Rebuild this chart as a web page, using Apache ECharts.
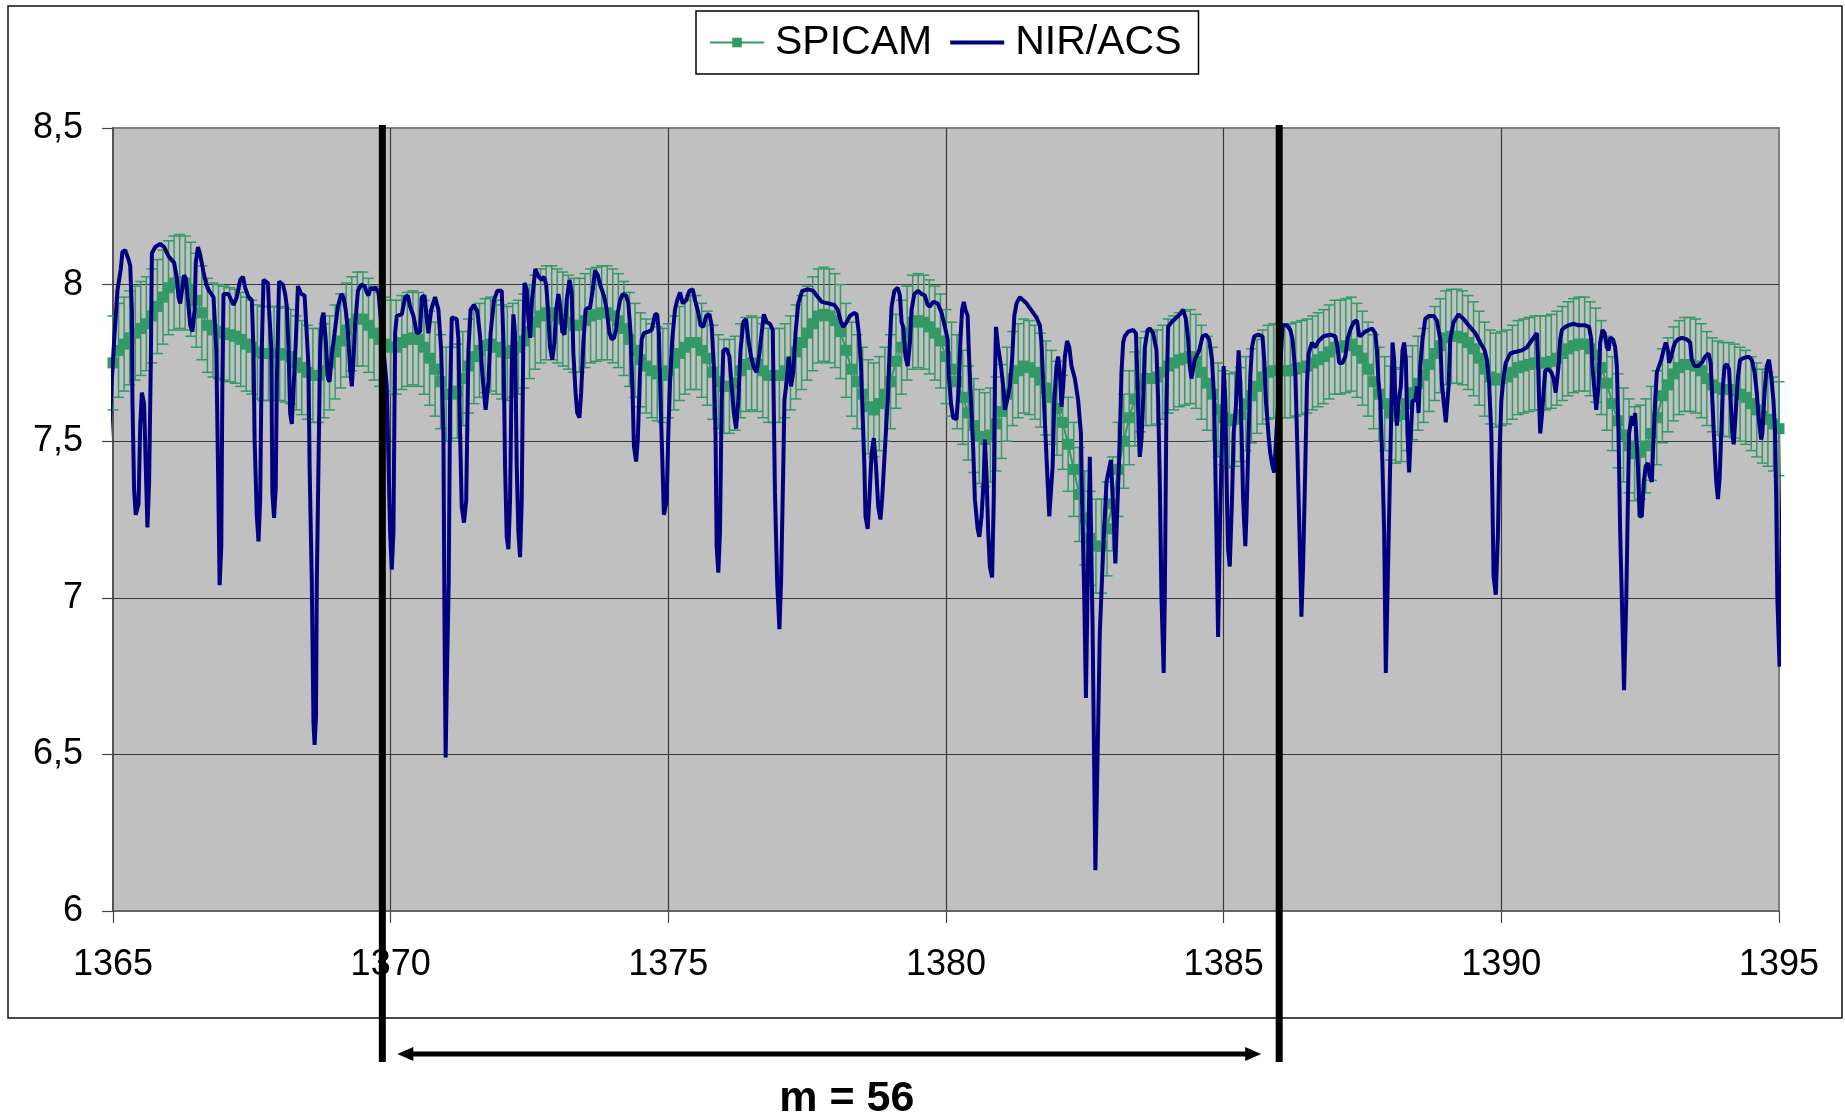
<!DOCTYPE html>
<html>
<head>
<meta charset="utf-8">
<title>SPICAM / NIR-ACS</title>
<script src="https://cdn.jsdelivr.net/npm/echarts@6.0.0/dist/echarts.min.js"></script>
<style>
    html, body { margin: 0; padding: 0; background: #fff; }
    #chart { width: 1845px; height: 1120px; }
</style>
</head>
<body>
<div id="chart"></div>
<script>
    // axis ranges / ticks
    var xRange = [1365, 1395];
    var yRange = [6, 8.5];

    // SPICAM: [x, value], error bar is +/- spicamErr
    var spicamErr = 0.15;
    var spicam = [
        [1365.0,7.75],[1365.1,7.79],[1365.2,7.81],[1365.3,7.83],[1365.4,7.845],[1365.5,7.86],[1365.6,7.875],[1365.7,7.90],[1365.8,7.93],[1365.9,7.96],
        [1366.0,7.99],[1366.1,8.005],[1366.2,8.01],[1366.3,8.005],[1366.4,7.985],[1366.5,7.95],[1366.6,7.91],[1366.7,7.87],[1366.8,7.855],[1366.9,7.85],
        [1367.0,7.845],[1367.1,7.84],[1367.2,7.835],[1367.3,7.825],[1367.4,7.81],[1367.5,7.80],[1367.6,7.785],[1367.7,7.78],[1367.8,7.78],[1367.9,7.78],
        [1368.0,7.78],[1368.1,7.775],[1368.2,7.77],[1368.3,7.75],[1368.4,7.735],[1368.5,7.72],[1368.6,7.71],[1368.7,7.71],[1368.8,7.725],[1368.9,7.75],
        [1369.0,7.785],[1369.1,7.82],[1369.2,7.855],[1369.3,7.875],[1369.4,7.89],[1369.5,7.89],[1369.6,7.87],[1369.7,7.845],[1369.8,7.825],[1369.9,7.81],
        [1370.0,7.80],[1370.1,7.80],[1370.2,7.815],[1370.3,7.825],[1370.4,7.83],[1370.5,7.825],[1370.6,7.80],[1370.7,7.765],[1370.8,7.73],[1370.9,7.69],
        [1371.0,7.65],[1371.1,7.65],[1371.2,7.66],[1371.3,7.70],[1371.4,7.74],[1371.5,7.77],[1371.6,7.79],[1371.7,7.805],[1371.8,7.81],[1371.9,7.80],
        [1372.0,7.785],[1372.1,7.78],[1372.2,7.79],[1372.3,7.80],[1372.4,7.82],[1372.5,7.85],[1372.6,7.88],[1372.7,7.90],[1372.8,7.91],[1372.9,7.91],
        [1373.0,7.90],[1373.1,7.89],[1373.2,7.88],[1373.3,7.87],[1373.4,7.87],[1373.5,7.885],[1373.6,7.90],[1373.7,7.905],[1373.8,7.91],[1373.9,7.91],
        [1374.0,7.90],[1374.1,7.885],[1374.2,7.86],[1374.3,7.825],[1374.4,7.79],[1374.5,7.76],[1374.6,7.74],[1374.7,7.725],[1374.8,7.715],[1374.9,7.71],
        [1375.0,7.725],[1375.1,7.75],[1375.2,7.78],[1375.3,7.80],[1375.4,7.815],[1375.5,7.815],[1375.6,7.79],[1375.7,7.765],[1375.8,7.72],[1375.9,7.69],
        [1376.0,7.675],[1376.1,7.675],[1376.2,7.685],[1376.3,7.725],[1376.4,7.745],[1376.5,7.75],[1376.6,7.745],[1376.7,7.725],[1376.8,7.71],[1376.9,7.71],
        [1377.0,7.71],[1377.1,7.725],[1377.2,7.75],[1377.3,7.785],[1377.4,7.815],[1377.5,7.845],[1377.6,7.875],[1377.7,7.90],[1377.8,7.905],[1377.9,7.90],
        [1378.0,7.885],[1378.1,7.85],[1378.2,7.79],[1378.3,7.73],[1378.4,7.69],[1378.5,7.65],[1378.6,7.61],[1378.7,7.60],[1378.8,7.62],[1378.9,7.65],
        [1379.0,7.69],[1379.1,7.755],[1379.2,7.80],[1379.3,7.845],[1379.4,7.88],[1379.5,7.885],[1379.6,7.88],[1379.7,7.865],[1379.8,7.845],[1379.9,7.82],
        [1380.0,7.77],[1380.1,7.73],[1380.2,7.69],[1380.3,7.64],[1380.4,7.59],[1380.5,7.55],[1380.6,7.515],[1380.7,7.505],[1380.8,7.52],[1380.9,7.555],
        [1381.0,7.595],[1381.1,7.65],[1381.2,7.70],[1381.3,7.725],[1381.4,7.74],[1381.5,7.735],[1381.6,7.72],[1381.7,7.695],[1381.8,7.67],[1381.9,7.64],
        [1382.0,7.605],[1382.1,7.56],[1382.2,7.49],[1382.3,7.41],[1382.4,7.33],[1382.5,7.255],[1382.6,7.19],[1382.7,7.165],[1382.8,7.165],[1382.9,7.22],
        [1383.0,7.30],[1383.1,7.41],[1383.2,7.50],[1383.3,7.575],[1383.4,7.635],[1383.5,7.68],[1383.6,7.70],[1383.7,7.70],[1383.8,7.705],[1383.9,7.72],
        [1384.0,7.74],[1384.1,7.75],[1384.2,7.76],[1384.3,7.765],[1384.4,7.77],[1384.5,7.755],[1384.6,7.72],[1384.7,7.685],[1384.8,7.65],[1384.9,7.60],
        [1385.0,7.575],[1385.1,7.565],[1385.2,7.57],[1385.3,7.585],[1385.4,7.62],[1385.5,7.645],[1385.6,7.675],[1385.7,7.705],[1385.8,7.72],[1385.9,7.725],
        [1386.0,7.725],[1386.1,7.725],[1386.2,7.725],[1386.3,7.73],[1386.4,7.735],[1386.5,7.74],[1386.6,7.75],[1386.7,7.76],[1386.8,7.77],[1386.9,7.785],
        [1387.0,7.80],[1387.1,7.80],[1387.2,7.805],[1387.3,7.81],[1387.4,7.79],[1387.5,7.765],[1387.6,7.73],[1387.7,7.69],[1387.8,7.65],[1387.9,7.62],
        [1388.0,7.59],[1388.1,7.58],[1388.2,7.585],[1388.3,7.62],[1388.4,7.655],[1388.5,7.685],[1388.6,7.71],[1388.7,7.745],[1388.8,7.78],[1388.9,7.805],
        [1389.0,7.83],[1389.1,7.835],[1389.2,7.835],[1389.3,7.83],[1389.4,7.815],[1389.5,7.795],[1389.6,7.765],[1389.7,7.73],[1389.8,7.705],[1389.9,7.695],
        [1390.0,7.70],[1390.1,7.705],[1390.2,7.72],[1390.3,7.735],[1390.4,7.74],[1390.5,7.745],[1390.6,7.75],[1390.7,7.75],[1390.8,7.75],[1390.9,7.755],
        [1391.0,7.765],[1391.1,7.78],[1391.2,7.795],[1391.3,7.805],[1391.4,7.81],[1391.5,7.81],[1391.6,7.795],[1391.7,7.775],[1391.8,7.735],[1391.9,7.685],
        [1392.0,7.62],[1392.1,7.565],[1392.2,7.52],[1392.3,7.485],[1392.4,7.46],[1392.5,7.465],[1392.6,7.485],[1392.7,7.525],[1392.8,7.575],[1392.9,7.645],
        [1393.0,7.68],[1393.1,7.715],[1393.2,7.735],[1393.3,7.745],[1393.4,7.745],[1393.5,7.74],[1393.6,7.725],[1393.7,7.70],[1393.8,7.68],[1393.9,7.67],
        [1394.0,7.665],[1394.1,7.665],[1394.2,7.66],[1394.3,7.65],[1394.4,7.64],[1394.5,7.62],[1394.6,7.60],[1394.7,7.58],[1394.8,7.57],[1394.9,7.555],
        [1395.0,7.54]
    ];

    // NIR/ACS: [x, value]
    var nirAcs = [
        [1364.93,7.51],[1364.98,7.70],[1365.02,7.82],[1365.08,7.98],[1365.14,8.05],[1365.17,8.105],[1365.22,8.11],[1365.28,8.08],[1365.31,8.06],[1365.34,7.92],
        [1365.35,7.63],[1365.38,7.345],[1365.41,7.265],[1365.46,7.30],[1365.49,7.55],[1365.52,7.655],[1365.56,7.62],[1365.59,7.42],[1365.62,7.225],[1365.65,7.37],
        [1365.68,7.74],[1365.70,8.10],[1365.76,8.12],[1365.85,8.13],[1365.92,8.12],[1366.00,8.09],[1366.10,8.07],[1366.15,8.02],[1366.18,7.96],[1366.21,7.94],
        [1366.28,8.03],[1366.31,8.02],[1366.35,7.95],[1366.39,7.87],[1366.43,7.85],[1366.47,7.92],[1366.49,8.07],[1366.53,8.12],[1366.57,8.095],[1366.63,8.04],
        [1366.68,8.00],[1366.73,7.98],[1366.81,7.96],[1366.86,7.79],[1366.89,7.43],[1366.92,7.04],[1366.95,7.165],[1366.97,7.70],[1366.99,7.97],[1367.08,7.97],
        [1367.13,7.95],[1367.17,7.935],[1367.23,7.96],[1367.29,8.015],[1367.34,8.025],[1367.38,7.99],[1367.44,7.96],[1367.50,7.95],[1367.53,7.79],[1367.55,7.505],
        [1367.59,7.26],[1367.62,7.18],[1367.65,7.31],[1367.68,7.80],[1367.71,8.015],[1367.79,8.005],[1367.81,7.92],[1367.85,7.80],[1367.87,7.335],[1367.90,7.255],
        [1367.93,7.35],[1367.95,7.69],[1367.99,8.01],[1368.06,8.00],[1368.10,7.97],[1368.13,7.93],[1368.16,7.80],[1368.19,7.59],[1368.22,7.555],[1368.25,7.665],
        [1368.29,7.81],[1368.33,7.995],[1368.39,7.97],[1368.45,7.965],[1368.48,7.87],[1368.52,7.74],[1368.54,7.42],[1368.58,7.05],[1368.61,6.60],[1368.63,6.53],
        [1368.655,6.62],[1368.67,7.05],[1368.70,7.42],[1368.73,7.79],[1368.76,7.89],[1368.79,7.91],[1368.83,7.825],[1368.87,7.70],[1368.90,7.69],[1368.94,7.775],
        [1368.99,7.845],[1369.05,7.93],[1369.11,7.97],[1369.15,7.96],[1369.19,7.92],[1369.23,7.85],[1369.27,7.73],[1369.30,7.675],[1369.33,7.76],[1369.36,7.87],
        [1369.41,7.98],[1369.47,8.00],[1369.53,7.995],[1369.57,7.975],[1369.60,7.965],[1369.64,7.99],[1369.69,7.985],[1369.73,7.99],[1369.78,7.975],[1369.93,7.675],
        [1369.99,7.21],[1370.02,7.09],[1370.05,7.21],[1370.08,7.845],[1370.11,7.90],[1370.20,7.905],[1370.26,7.96],[1370.31,7.965],[1370.35,7.93],[1370.41,7.90],
        [1370.47,7.845],[1370.53,7.85],[1370.56,7.96],[1370.61,7.965],[1370.65,7.89],[1370.68,7.845],[1370.73,7.92],[1370.80,7.96],[1370.86,7.92],[1370.91,7.79],
        [1370.95,7.525],[1370.97,6.90],[1370.99,6.49],[1371.01,6.72],[1371.045,7.05],[1371.07,7.63],[1371.10,7.895],[1371.19,7.89],[1371.22,7.825],[1371.25,7.525],
        [1371.28,7.29],[1371.32,7.24],[1371.36,7.31],[1371.40,7.79],[1371.44,7.92],[1371.50,7.935],[1371.56,7.915],[1371.61,7.835],[1371.64,7.74],[1371.67,7.675],
        [1371.71,7.60],[1371.76,7.69],[1371.80,7.845],[1371.86,7.95],[1371.92,7.98],[1372.00,7.98],[1372.03,7.825],[1372.06,7.42],[1372.09,7.195],[1372.12,7.155],
        [1372.15,7.31],[1372.18,7.74],[1372.21,7.905],[1372.24,7.845],[1372.27,7.42],[1372.30,7.21],[1372.33,7.13],[1372.36,7.31],[1372.39,7.845],[1372.41,8.005],
        [1372.45,7.985],[1372.48,7.89],[1372.51,7.83],[1372.545,7.95],[1372.605,8.05],[1372.665,8.025],[1372.72,8.015],[1372.76,8.025],[1372.80,8.00],[1372.83,7.93],
        [1372.87,7.80],[1372.91,7.76],[1372.95,7.815],[1372.98,7.92],[1373.02,7.97],[1373.05,7.935],[1373.09,7.85],[1373.13,7.84],[1373.17,7.95],[1373.22,8.015],
        [1373.26,7.975],[1373.29,7.78],[1373.33,7.655],[1373.36,7.59],[1373.40,7.575],[1373.43,7.655],[1373.47,7.815],[1373.51,7.92],[1373.55,7.925],[1373.59,7.925],
        [1373.64,7.985],[1373.68,8.045],[1373.73,8.03],[1373.78,7.995],[1373.84,7.965],[1373.89,7.92],[1373.94,7.845],[1373.98,7.825],[1374.02,7.83],[1374.06,7.855],
        [1374.09,7.91],[1374.13,7.95],[1374.18,7.97],[1374.24,7.965],[1374.28,7.94],[1374.32,7.845],[1374.36,7.63],[1374.38,7.485],[1374.42,7.435],[1374.45,7.505],
        [1374.49,7.72],[1374.52,7.825],[1374.56,7.845],[1374.64,7.85],[1374.70,7.855],[1374.73,7.88],[1374.76,7.905],[1374.80,7.905],[1374.83,7.845],[1374.86,7.63],
        [1374.90,7.39],[1374.92,7.265],[1374.97,7.31],[1375.00,7.525],[1375.03,7.685],[1375.07,7.825],[1375.12,7.92],[1375.16,7.95],[1375.21,7.975],[1375.26,7.94],
        [1375.32,7.95],[1375.38,7.98],[1375.44,7.985],[1375.48,7.95],[1375.54,7.91],[1375.58,7.87],[1375.63,7.865],[1375.68,7.90],[1375.74,7.905],[1375.78,7.87],
        [1375.82,7.74],[1375.85,7.525],[1375.87,7.165],[1375.90,7.08],[1375.93,7.21],[1375.96,7.63],[1375.99,7.79],[1376.05,7.795],[1376.10,7.77],[1376.14,7.675],
        [1376.18,7.59],[1376.22,7.54],[1376.26,7.63],[1376.30,7.79],[1376.35,7.88],[1376.40,7.89],[1376.44,7.825],[1376.49,7.77],[1376.54,7.735],[1376.59,7.72],
        [1376.64,7.78],[1376.68,7.845],[1376.72,7.905],[1376.77,7.88],[1376.83,7.875],[1376.88,7.855],[1376.92,7.335],[1376.96,7.05],[1377.00,6.90],[1377.03,7.05],
        [1377.07,7.42],[1377.09,7.63],[1377.13,7.69],[1377.17,7.77],[1377.21,7.675],[1377.25,7.72],[1377.29,7.845],[1377.34,7.94],[1377.41,7.98],[1377.52,7.985],
        [1377.61,7.98],[1377.67,7.965],[1377.76,7.945],[1377.88,7.94],[1377.99,7.935],[1378.05,7.92],[1378.11,7.88],[1378.15,7.865],[1378.21,7.88],[1378.27,7.90],
        [1378.35,7.91],[1378.39,7.905],[1378.43,7.845],[1378.47,7.74],[1378.50,7.58],[1378.53,7.42],[1378.55,7.26],[1378.59,7.22],[1378.62,7.315],[1378.66,7.46],
        [1378.70,7.51],[1378.74,7.42],[1378.78,7.29],[1378.82,7.25],[1378.85,7.315],[1378.90,7.475],[1378.95,7.63],[1378.99,7.815],[1379.02,7.93],[1379.07,7.98],
        [1379.13,7.99],[1379.17,7.965],[1379.20,7.88],[1379.23,7.865],[1379.27,7.77],[1379.31,7.74],[1379.35,7.815],[1379.38,7.92],[1379.43,7.97],[1379.50,7.98],
        [1379.56,7.97],[1379.62,7.965],[1379.67,7.935],[1379.71,7.93],[1379.77,7.945],[1379.85,7.94],[1379.92,7.91],[1379.98,7.865],[1380.03,7.825],[1380.05,7.71],
        [1380.09,7.62],[1380.13,7.575],[1380.19,7.57],[1380.23,7.675],[1380.26,7.825],[1380.29,7.92],[1380.32,7.945],[1380.35,7.92],[1380.39,7.90],[1380.41,7.79],
        [1380.45,7.63],[1380.49,7.475],[1380.52,7.315],[1380.57,7.22],[1380.60,7.195],[1380.64,7.26],[1380.68,7.38],[1380.70,7.505],[1380.73,7.39],[1380.76,7.21],
        [1380.79,7.10],[1380.83,7.065],[1380.86,7.315],[1380.88,7.685],[1380.90,7.865],[1380.94,7.80],[1380.99,7.74],[1381.03,7.675],[1381.06,7.60],[1381.10,7.63],
        [1381.15,7.675],[1381.19,7.76],[1381.23,7.90],[1381.27,7.94],[1381.33,7.96],[1381.39,7.95],[1381.45,7.94],[1381.51,7.925],[1381.57,7.91],[1381.63,7.895],
        [1381.69,7.87],[1381.72,7.815],[1381.75,7.685],[1381.79,7.525],[1381.83,7.37],[1381.86,7.26],[1381.89,7.265],[1381.92,7.42],[1381.95,7.63],[1381.99,7.74],
        [1382.02,7.77],[1382.05,7.72],[1382.08,7.61],[1382.11,7.675],[1382.14,7.77],[1382.18,7.82],[1382.22,7.80],[1382.26,7.74],[1382.32,7.70],[1382.38,7.63],
        [1382.43,7.525],[1382.45,7.315],[1382.49,7.00],[1382.52,6.68],[1382.555,7.10],[1382.59,7.45],[1382.64,6.90],[1382.69,6.13],[1382.73,6.50],[1382.77,6.89],
        [1382.83,7.15],[1382.89,7.37],[1382.97,7.44],[1383.02,7.25],[1383.05,7.11],[1383.10,7.36],[1383.13,7.505],[1383.16,7.72],[1383.19,7.815],[1383.22,7.835],
        [1383.28,7.85],[1383.37,7.855],[1383.42,7.845],[1383.45,7.685],[1383.47,7.525],[1383.49,7.45],[1383.52,7.505],[1383.55,7.63],[1383.58,7.80],[1383.63,7.855],
        [1383.67,7.86],[1383.73,7.845],[1383.79,7.79],[1383.82,7.63],[1383.85,7.37],[1383.88,7.00],[1383.92,6.76],[1383.94,7.00],[1383.97,7.63],[1384.00,7.865],
        [1384.06,7.88],[1384.15,7.895],[1384.21,7.905],[1384.27,7.92],[1384.32,7.89],[1384.36,7.825],[1384.39,7.74],[1384.42,7.70],[1384.48,7.76],[1384.56,7.79],
        [1384.62,7.835],[1384.68,7.84],[1384.74,7.825],[1384.79,7.76],[1384.83,7.63],[1384.86,7.31],[1384.90,6.875],[1384.93,7.20],[1384.97,7.525],[1385.00,7.74],
        [1385.03,7.63],[1385.06,7.31],[1385.08,7.155],[1385.11,7.10],[1385.15,7.315],[1385.18,7.525],[1385.22,7.61],[1385.27,7.79],[1385.30,7.685],[1385.33,7.475],
        [1385.35,7.315],[1385.39,7.165],[1385.41,7.26],[1385.45,7.525],[1385.48,7.71],[1385.51,7.80],[1385.55,7.835],[1385.62,7.84],[1385.70,7.835],[1385.73,7.76],
        [1385.76,7.63],[1385.81,7.515],[1385.84,7.46],[1385.88,7.42],[1385.91,7.40],[1386.06,7.87],[1386.14,7.87],[1386.20,7.855],[1386.24,7.825],[1386.29,7.72],
        [1386.32,7.525],[1386.35,7.315],[1386.38,7.10],[1386.40,6.94],[1386.43,7.10],[1386.47,7.42],[1386.50,7.685],[1386.53,7.78],[1386.59,7.815],[1386.65,7.80],
        [1386.71,7.82],[1386.80,7.835],[1386.92,7.84],[1387.01,7.835],[1387.05,7.80],[1387.08,7.75],[1387.14,7.75],[1387.19,7.77],[1387.23,7.825],[1387.28,7.855],
        [1387.34,7.88],[1387.40,7.885],[1387.44,7.835],[1387.49,7.84],[1387.55,7.85],[1387.61,7.855],[1387.67,7.86],[1387.73,7.845],[1387.76,7.79],[1387.79,7.685],
        [1387.82,7.63],[1387.86,7.42],[1387.89,7.21],[1387.92,6.76],[1387.96,7.10],[1388.01,7.525],[1388.03,7.685],[1388.04,7.815],[1388.07,7.76],[1388.09,7.63],
        [1388.12,7.55],[1388.15,7.63],[1388.19,7.675],[1388.22,7.79],[1388.25,7.815],[1388.28,7.76],[1388.31,7.525],[1388.34,7.40],[1388.37,7.525],[1388.40,7.63],
        [1388.45,7.63],[1388.48,7.675],[1388.51,7.59],[1388.54,7.74],[1388.58,7.825],[1388.63,7.89],[1388.69,7.90],[1388.78,7.90],[1388.84,7.885],[1388.90,7.825],
        [1388.93,7.685],[1388.96,7.63],[1389.00,7.56],[1389.05,7.675],[1389.08,7.825],[1389.14,7.88],[1389.23,7.905],[1389.32,7.89],[1389.41,7.87],[1389.53,7.845],
        [1389.62,7.815],[1389.70,7.79],[1389.74,7.76],[1389.78,7.685],[1389.82,7.525],[1389.84,7.31],[1389.86,7.07],[1389.90,7.01],[1389.94,7.21],[1389.96,7.42],
        [1390.00,7.63],[1390.04,7.705],[1390.08,7.75],[1390.16,7.78],[1390.25,7.785],[1390.37,7.79],[1390.46,7.80],[1390.54,7.82],[1390.60,7.835],[1390.64,7.845],
        [1390.66,7.76],[1390.68,7.63],[1390.70,7.525],[1390.73,7.58],[1390.76,7.655],[1390.79,7.725],[1390.84,7.73],[1390.90,7.72],[1390.94,7.70],[1390.98,7.655],
        [1391.03,7.74],[1391.06,7.825],[1391.09,7.855],[1391.15,7.865],[1391.21,7.87],[1391.30,7.875],[1391.39,7.87],[1391.51,7.87],[1391.58,7.865],[1391.62,7.825],
        [1391.64,7.74],[1391.68,7.655],[1391.71,7.60],[1391.75,7.675],[1391.78,7.815],[1391.82,7.855],[1391.86,7.845],[1391.90,7.80],[1391.93,7.79],[1391.96,7.83],
        [1392.01,7.825],[1392.05,7.80],[1392.08,7.74],[1392.11,7.525],[1392.14,7.21],[1392.17,7.00],[1392.21,6.705],[1392.25,7.00],[1392.28,7.315],[1392.30,7.525],
        [1392.35,7.58],[1392.38,7.55],[1392.41,7.59],[1392.46,7.42],[1392.49,7.26],[1392.53,7.26],[1392.565,7.37],[1392.60,7.42],[1392.64,7.43],[1392.67,7.39],
        [1392.71,7.37],[1392.74,7.505],[1392.77,7.63],[1392.80,7.72],[1392.83,7.735],[1392.88,7.76],[1392.92,7.79],[1392.96,7.815],[1393.00,7.79],[1393.02,7.75],
        [1393.06,7.77],[1393.10,7.80],[1393.13,7.815],[1393.18,7.825],[1393.25,7.83],[1393.34,7.825],[1393.40,7.815],[1393.43,7.76],[1393.48,7.74],[1393.55,7.74],
        [1393.61,7.75],[1393.67,7.77],[1393.73,7.78],[1393.77,7.75],[1393.80,7.63],[1393.84,7.475],[1393.87,7.37],[1393.90,7.315],[1393.93,7.38],[1393.96,7.525],
        [1393.99,7.675],[1394.02,7.74],[1394.06,7.745],[1394.10,7.73],[1394.13,7.63],[1394.16,7.525],[1394.185,7.49],[1394.22,7.59],[1394.26,7.705],[1394.30,7.76],
        [1394.36,7.765],[1394.45,7.77],[1394.51,7.76],[1394.56,7.72],[1394.60,7.655],[1394.63,7.58],[1394.68,7.505],[1394.70,7.525],[1394.74,7.655],[1394.78,7.74],
        [1394.82,7.76],[1394.86,7.705],[1394.90,7.63],[1394.93,7.525],[1394.95,7.315],[1394.97,7.00],[1395.01,6.78],[1395.05,7.20],[1395.08,7.70],[1395.14,7.72]
    ];

    // the two thick vertical markers and the label of the window between them
    var windowEdges = [1369.85, 1386.0];
    var windowLabel = 'm = 56';

    var FONT = "'Liberation Sans', Arial, sans-serif";
    var GREEN = '#339966';
    var NAVY = '#000080';

    var chart = echarts.init(document.getElementById('chart'));

    chart.setOption({
        animation: false,
        backgroundColor: '#ffffff',
        grid: {
            left: 113, top: 128, right: 66, bottom: 209,
            show: true,
            backgroundColor: '#c0c0c0',
            borderColor: '#808080',
            borderWidth: 2
        },
        legend: {
            data: [
                {name: 'SPICAM'},
                // plain line icon, no marker
                {name: 'NIR/ACS', icon: 'path://M0,0 L54,0 L54,4 L0,4 Z'}
            ],
            left: 696,
            top: 11,
            padding: [11, 17, 11, 13],
            itemGap: 18,
            itemWidth: 54,
            itemHeight: 12,
            borderColor: '#000',
            borderWidth: 1.5,
            selectedMode: false,
            textStyle: {fontSize: 41, color: '#000', fontFamily: FONT, padding: [0, 0, 0, 6]}
        },
        xAxis: {
            type: 'value',
            min: xRange[0], max: xRange[1], interval: 5,
            axisLine: {show: true, lineStyle: {color: '#666', width: 2}},
            axisTick: {show: true, length: 12, lineStyle: {color: '#444', width: 1.2}},
            splitLine: {show: true, showMinLine: false, showMaxLine: false, lineStyle: {color: '#383838', width: 1.2}},
            axisLabel: {
                fontSize: 36, color: '#000', fontFamily: FONT, margin: 36,
                formatter: function (v) { return String(v); }
            }
        },
        yAxis: {
            type: 'value',
            min: yRange[0], max: yRange[1], interval: 0.5,
            axisLine: {show: true, lineStyle: {color: '#444', width: 1.5}},
            axisTick: {show: true, length: 11, lineStyle: {color: '#444', width: 1.2}},
            splitLine: {show: true, showMinLine: false, showMaxLine: false, lineStyle: {color: '#383838', width: 1.2}},
            axisLabel: {
                fontSize: 36, color: '#000', fontFamily: FONT, margin: 30,
                formatter: function (v) { return String(v).replace('.', ','); }
            }
        },
        series: [
            {
                name: 'SPICAM error',
                type: 'custom',
                data: spicam,
                encode: {x: 0, y: 1},
                z: 2,
                renderItem: function (params, api) {
                    var x = api.value(0), y = api.value(1);
                    var top = api.coord([x, y + spicamErr]);
                    var bot = api.coord([x, y - spicamErr]);
                    var hw = 5.5;
                    var st = {stroke: GREEN, lineWidth: 1.5};
                    return {
                        type: 'group',
                        children: [
                            {type: 'line', shape: {x1: top[0], y1: top[1], x2: bot[0], y2: bot[1]}, style: st},
                            {type: 'line', shape: {x1: top[0] - hw, y1: top[1], x2: top[0] + hw, y2: top[1]}, style: st},
                            {type: 'line', shape: {x1: bot[0] - hw, y1: bot[1], x2: bot[0] + hw, y2: bot[1]}, style: st}
                        ]
                    };
                }
            },
            {
                name: 'SPICAM',
                type: 'line',
                data: spicam,
                z: 3,
                symbol: 'rect',
                symbolSize: 11,
                showAllSymbol: true,
                lineStyle: {color: GREEN, width: 2},
                itemStyle: {color: GREEN}
            },
            {
                name: 'NIR/ACS',
                type: 'line',
                data: nirAcs,
                z: 4,
                symbol: 'none',
                clip: false,
                lineStyle: {color: NAVY, width: 4, join: 'bevel'},
                itemStyle: {color: NAVY}
            }
        ]
    });

    // annotations below and across the plot, placed through the axes
    var px = windowEdges.map(function (x) {
        return chart.convertToPixel({gridIndex: 0}, [x, yRange[1]]);
    });
    var lineTop = px[0][1] - 3;
    var lineBottom = 1062;
    var arrowY = 1054;
    var leftTip = px[0][0] + 15;
    var rightTip = px[1][0] - 18;
    var midX = (px[0][0] + px[1][0]) / 2 + 16;

    chart.setOption({
        graphic: [
            {
                type: 'rect', z: 0, silent: true,
                shape: {x: 8, y: 6, width: 1834, height: 1012},
                style: {fill: 'none', stroke: '#111', lineWidth: 1.5}
            },
            {
                type: 'line', z: 100,
                shape: {x1: px[0][0], y1: lineTop, x2: px[0][0], y2: lineBottom},
                style: {stroke: '#000', lineWidth: 7}
            },
            {
                type: 'line', z: 100,
                shape: {x1: px[1][0], y1: lineTop, x2: px[1][0], y2: lineBottom},
                style: {stroke: '#000', lineWidth: 7}
            },
            {
                type: 'line', z: 100,
                shape: {x1: leftTip + 10, y1: arrowY, x2: rightTip - 10, y2: arrowY},
                style: {stroke: '#000', lineWidth: 5}
            },
            {
                type: 'polygon', z: 100,
                shape: {points: [[leftTip, arrowY], [leftTip + 16, arrowY - 7], [leftTip + 16, arrowY + 7]]},
                style: {fill: '#000'}
            },
            {
                type: 'polygon', z: 100,
                shape: {points: [[rightTip, arrowY], [rightTip - 16, arrowY - 7], [rightTip - 16, arrowY + 7]]},
                style: {fill: '#000'}
            },
            {
                type: 'text', z: 100,
                x: midX, y: 1099,
                style: {
                    text: windowLabel,
                    font: 'bold 43px ' + FONT,
                    fill: '#000',
                    textAlign: 'center',
                    textVerticalAlign: 'middle'
                }
            }
        ]
    });
</script>
</body>
</html>
